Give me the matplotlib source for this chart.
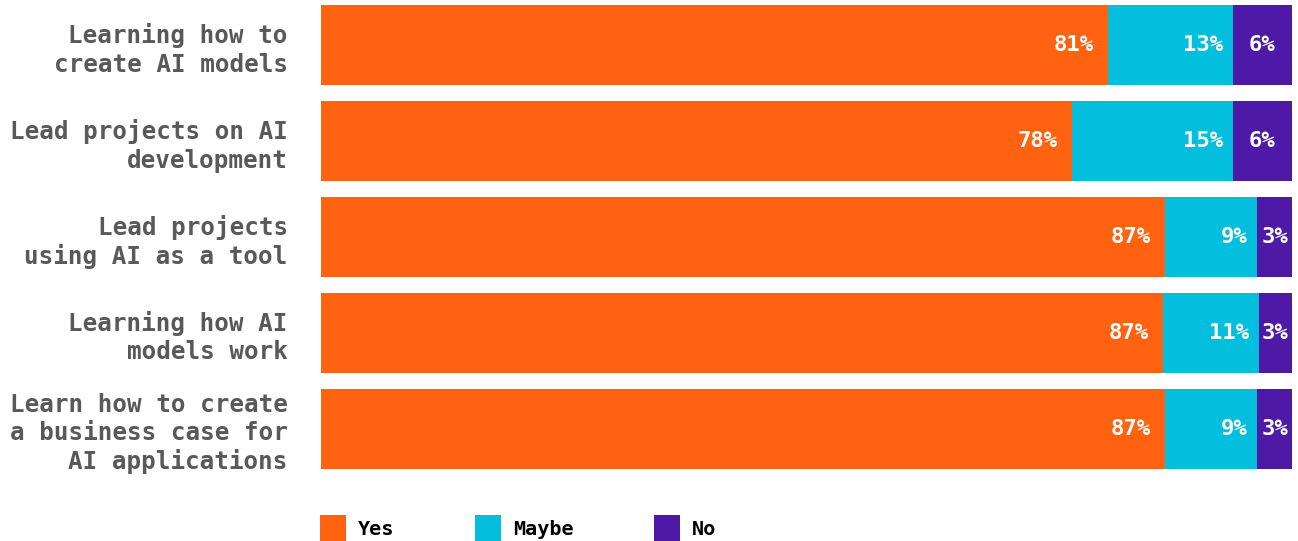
import matplotlib.pyplot as plt
from matplotlib.patches import Patch
import numpy as np

categories = [
    "Learning how to\ncreate AI models",
    "Lead projects on AI\ndevelopment",
    "Lead projects\nusing AI as a tool",
    "Learning how AI\nmodels work",
    "Learn how to create\na business case for\nAI applications",
]
# segment widths as measured from the bars
yes = [81.0, 77.3, 86.9, 86.7, 86.9]
maybe = [12.9, 16.6, 9.5, 9.9, 9.5]
no = [6.1, 6.1, 3.6, 3.4, 3.6]
# printed labels
yes_labels = ["81%", "78%", "87%", "87%", "87%"]
maybe_labels = ["13%", "15%", "9%", "11%", "9%"]
no_labels = ["6%", "6%", "3%", "3%", "3%"]

series_names = ["Yes", "Maybe", "No"]
colors = ["#FF6311", "#04BEDE", "#4F19A7"]

mono = "DejaVu Sans Mono"

fig = plt.figure(figsize=(12.98, 5.41), dpi=100)
ax = fig.add_axes([321 / 1298, 1 - 475 / 541, 971 / 1298, 475 / 541])

y = np.arange(len(categories))
yes_a = np.array(yes)
maybe_a = np.array(maybe)
no_a = np.array(no)

ax.barh(y, yes_a, height=0.834, color=colors[0])
ax.barh(y, maybe_a, left=yes_a, height=0.834, color=colors[1])
ax.barh(y, no_a, left=yes_a + maybe_a, height=0.834, color=colors[2])

px = 100 / 971  # one pixel in data units
for i in range(len(categories)):
    ax.text(yes_a[i] - 14 * px, y[i], yes_labels[i], ha="right", va="center",
            color="white", fontsize=16, fontweight="bold", family=mono)
    ax.text(yes_a[i] + maybe_a[i] - 10 * px, y[i], maybe_labels[i], ha="right", va="center",
            color="white", fontsize=16, fontweight="bold", family=mono)
    ax.text(yes_a[i] + maybe_a[i] + no_a[i] / 2, y[i], no_labels[i], ha="center", va="center",
            color="white", fontsize=16, fontweight="bold", family=mono)

ax.set_xlim(0, 100)
ax.set_ylim(4.48, -0.474)
ax.set_yticks(y)
ax.set_yticklabels(categories, fontsize=17.5, fontweight="bold", family=mono,
                   color="#595959", linespacing=1.22)
ax.tick_params(axis="y", length=0, pad=24)
ax.set_xticks([])
for s in ax.spines.values():
    s.set_visible(False)

handles = [Patch(facecolor=c, edgecolor="none") for c in colors]
fig.legend(handles, series_names, loc="lower left", bbox_to_anchor=(320 / 1298, 0),
           ncol=3, frameon=False, borderaxespad=0, borderpad=0,
           handlelength=1.29, handleheight=1.61, handletextpad=0.6,
           columnspacing=4.0, prop={"family": mono, "weight": "bold", "size": 14.5})

fig.savefig("out.png", dpi=100)
